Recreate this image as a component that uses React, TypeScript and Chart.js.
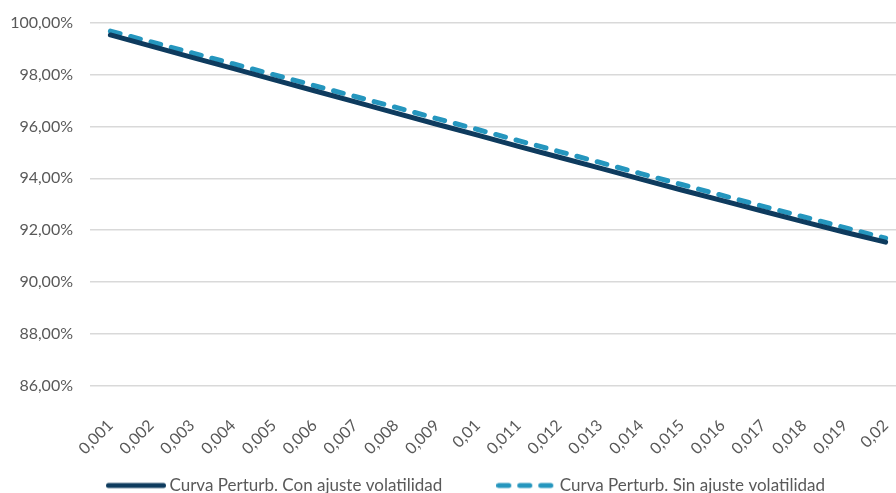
import React, { useEffect, useRef } from "react";
import { Chart, registerables } from "chart.js";

Chart.register(...registerables);

const categories = ["0,001","0,002","0,003","0,004","0,005","0,006","0,007","0,008","0,009","0,01","0,011","0,012","0,013","0,014","0,015","0,016","0,017","0,018","0,019","0,02"];
const conAjuste = [99.52, 99.09, 98.66, 98.23, 97.80, 97.37, 96.94, 96.51, 96.08, 95.66, 95.23, 94.81, 94.39, 93.97, 93.55, 93.14, 92.73, 92.32, 91.92, 91.54];
const sinAjuste = [99.67, 99.25, 98.83, 98.41, 97.99, 97.57, 97.15, 96.73, 96.30, 95.88, 95.45, 95.03, 94.61, 94.18, 93.76, 93.34, 92.92, 92.51, 92.10, 91.69];
const seriesNames = ["Curva Perturb. Con ajuste volatilidad", "Curva Perturb. Sin ajuste volatilidad"];
const yMin = 86;
const yMax = 100;
const yStep = 2;

const DARK = "#0e3b5e";
const LIGHT = "#2596be";
const FONT = "Lato";
const TEXT = "#595959";

function legendSample(color: string, dash: number[]) {
  const c = document.createElement("canvas");
  c.width = 60;
  c.height = 8;
  const ctx = c.getContext("2d")!;
  ctx.strokeStyle = color;
  ctx.lineWidth = 5;
  ctx.lineCap = "round";
  ctx.setLineDash(dash);
  ctx.beginPath();
  ctx.moveTo(2.5, 4);
  ctx.lineTo(57.5, 4);
  ctx.stroke();
  return c;
}

export default function App() {
  const ref = useRef<HTMLCanvasElement | null>(null);
  useEffect(() => {
    if (!ref.current) return;
    const samples = [legendSample(DARK, []), legendSample(LIGHT, [10, 11])];
    const chart = new Chart(ref.current, {
      type: "line",
      data: {
        labels: categories,
        datasets: [
          {
            label: seriesNames[0],
            data: conAjuste,
            borderColor: DARK,
            backgroundColor: DARK,
            borderWidth: 5,
            pointRadius: 0,
            borderCapStyle: "round",
            tension: 0,
          },
          {
            label: seriesNames[1],
            data: sinAjuste,
            borderColor: LIGHT,
            backgroundColor: LIGHT,
            borderWidth: 5,
            borderDash: [10, 11],
            borderCapStyle: "round",
            pointRadius: 0,
            tension: 0,
          },
        ],
      },
      options: {
        animation: false,
        responsive: false,
        maintainAspectRatio: false,
        layout: { padding: { left: 30, right: 28, top: 22.5, bottom: 0 } },
        plugins: {
          tooltip: { enabled: false },
          legend: {
            position: "bottom",
            labels: {
              font: { family: FONT, size: 17 },
              color: TEXT,
              usePointStyle: true,
              pointStyleWidth: 50,
              padding: 59,
              generateLabels: (c: any) =>
                c.data.datasets.map((ds: any, i: number) => ({
                  text: ds.label,
                  fillStyle: ds.borderColor,
                  strokeStyle: ds.borderColor,
                  lineWidth: 0,
                  pointStyle: samples[i],
                  hidden: false,
                  datasetIndex: i,
                  fontColor: TEXT,
                })),
            },
          },
        },
        scales: {
          x: {
            offset: true,
            grid: { display: false },
            border: { display: false },
            afterFit: (s: any) => {
              s.height = 32;
              s._computeLabelArea = () => undefined;
            },
            ticks: {
              font: { family: FONT, size: 16 },
              color: TEXT,
              minRotation: 45,
              maxRotation: 45,
              autoSkip: false,
              padding: 22,
            },
          },
          y: {
            min: yMin,
            max: yMax,
            grid: { color: "#d9d9d9", lineWidth: 1.5, drawTicks: false },
            border: { display: false },
            afterFit: (s: any) => {
              s.width = 60;
              s.paddingTop = 0;
              s.paddingBottom = 0;
              s._computeLabelArea = () => undefined;
            },
            ticks: {
              stepSize: yStep,
              font: { family: FONT, size: 16 },
              color: TEXT,
              padding: 17,
              callback: (v: any) => Number(v).toFixed(2).replace(".", ",") + "%",
            },
          },
        },
      },
    });
    return () => chart.destroy();
  }, []);
  return (
    <div style={{ width: 896, height: 493, overflow: "hidden", position: "absolute", left: 0, top: 0 }}>
      <style>{"body{margin:0;overflow:hidden}"}</style>
      <canvas ref={ref} width={934} height={504} style={{ display: "block" }} />
    </div>
  );
}
